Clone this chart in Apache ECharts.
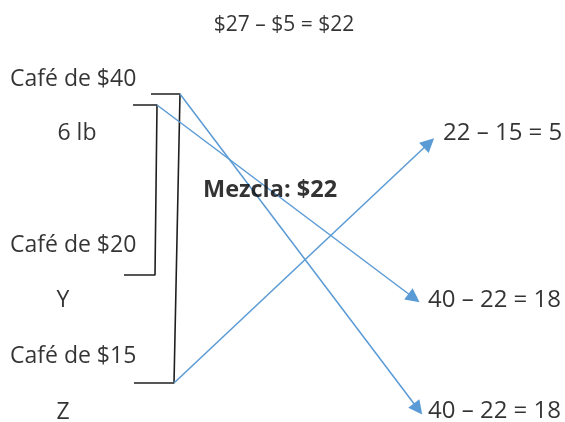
<!DOCTYPE html>
<html>
<head>
<meta charset="utf-8">
<script src="https://cdn.jsdelivr.net/npm/echarts@6/dist/echarts.min.js"></script>
<style>html,body{margin:0;padding:0;background:#fff}#c{width:565px;height:422px}</style>
</head>
<body>
<div id="c"></div>
<script>
// Diagram data (coordinates in the hidden axis units: x 0..565, y 0..422 downward)
var titleText = '$27 \u2013 $5 = $22';
var leftLabels = ['Café de $40', '6 lb', 'Café de $20', 'Y', 'Café de $15', 'Z'];
var leftLabelPos = [[10, 79, 'left'], [77, 133, 'center'], [10, 245, 'left'], [63, 300, 'center'], [10, 356, 'left'], [63, 412, 'center']];
var rightLabels = ['22 \u2013 15 = 5', '40 \u2013 22 = 18', '40 \u2013 22 = 18'];
var rightLabelPos = [[443, 133], [428, 300], [428, 411]];
var centerLabel = 'Mezcla: $22';
var centerLabelPos = [203, 190];
var outerBracket = [[151, 94], [180, 94], [174, 383], [134, 383]];
var innerBracket = [[133, 105], [157, 105], [155, 275], [124, 275]];
var arrows = [
  [[180, 94], [418, 409]],
  [[157, 105], [414, 298]],
  [[174, 383], [429, 143]]
];

var FONT = '"Open Sans", "Noto Sans", sans-serif';
var textData = [];
textData.push({value: [284, 25], name: titleText, label: {align: 'center', fontSize: 21}});
leftLabels.forEach(function (t, i) {
  textData.push({value: [leftLabelPos[i][0], leftLabelPos[i][1]], name: t, label: {align: leftLabelPos[i][2], fontSize: 23}});
});
rightLabels.forEach(function (t, i) {
  textData.push({value: rightLabelPos[i], name: t, label: {align: 'left', fontSize: 24}});
});
textData.push({value: centerLabelPos, name: centerLabel, label: {align: 'left', fontWeight: 'bold', fontSize: 23.5}});

var chart = echarts.init(document.getElementById('c'), null, {renderer: 'canvas'});
chart.setOption({
  animation: false,
  backgroundColor: '#ffffff',
  grid: {left: 0, right: 0, top: 0, bottom: 0},
  xAxis: {type: 'value', min: 0, max: 565, show: false},
  yAxis: {type: 'value', min: 0, max: 422, inverse: true, show: false},
  series: [
    {
      type: 'line', data: outerBracket, symbol: 'none',
      lineStyle: {color: '#1f1f1f', width: 1.6}, z: 2
    },
    {
      type: 'line', data: innerBracket, symbol: 'none',
      lineStyle: {color: '#1f1f1f', width: 1.6}, z: 2
    },
    {
      type: 'lines', coordinateSystem: 'cartesian2d',
      data: arrows.map(function (a) { return {coords: a}; }),
      symbol: ['none', 'triangle'], symbolSize: [0, 14],
      lineStyle: {color: '#5b9bd5', width: 1.5, opacity: 1},
      itemStyle: {color: '#5b9bd5'}, z: 3
    },
    {
      type: 'scatter', data: textData, symbolSize: 0, z: 5,
      label: {
        show: true, position: 'inside', formatter: '{b}',
        color: '#000000', fontFamily: FONT, fontSize: 23, verticalAlign: 'middle'
      }
    }
  ]
});
</script>
</body>
</html>
